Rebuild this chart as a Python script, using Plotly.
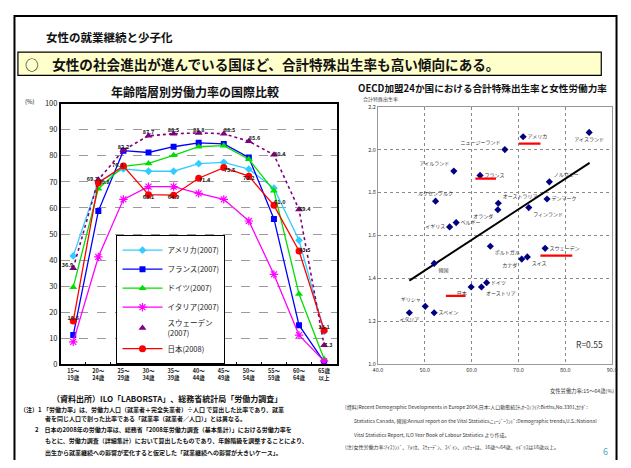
import plotly.graph_objects as go

# page is 631x468; the html body has an 8px margin, so the figure is 615x452 offset by 8px
OFF = 8
W, H = 631 - 2 * OFF, 468 - 2 * OFF
FONT = "Noto Sans CJK JP"


def px(x):
    return (x - OFF) / W


def py(y):
    return 1 - (y - OFF) / H


# ---------------- left chart data ----------------
age_groups = ["15～<br>19歳", "20～<br>24歳", "25～<br>29歳", "30～<br>34歳", "35～<br>39歳",
              "40～<br>44歳", "45～<br>49歳", "50～<br>54歳", "55～<br>59歳", "60～<br>64歳", "65歳<br>以上"]
usa_2007 = [41.6, 70.1, 75.0, 74.1, 74.1, 77.0, 77.5, 74.9, 67.6, 47.6, 12.6]
france_2007 = [11.2, 58.8, 82.0, 81.3, 83.5, 85.0, 84.6, 79.4, 55.8, 15.0, 0.9]
germany_2007 = [29.6, 67.4, 76.0, 77.1, 80.2, 83.5, 83.9, 78.7, 66.6, 27.0, 2.0]
italy_2007 = [8.6, 41.2, 63.3, 68.2, 68.2, 65.6, 63.3, 55.0, 34.5, 11.2, 1.2]
sweden_2007 = [36.9, 70.8, 82.2, 87.7, 88.5, 88.8, 88.5, 85.6, 80.4, 59.4, 7.3]
japan_2008 = [16.6, 69.7, 76.1, 65.1, 64.9, 71.4, 75.5, 72.2, 61.0, 43.5, 13.1]

# ---------------- right chart data ----------------
countries = ["アメリカ", "アイスランド", "ニュージーランド", "アイルランド", "フランス", "ノルウェー",
             "ルクセンブルク", "オーストラリア", "デンマーク", "オランダ", "フィンランド", "ベルギー",
             "イギリス", "ポルトガル", "カナダ", "スイス", "スウェーデン", "韓国", "ドイツ",
             "オーストリア", "日本", "ギリシャ", "スペイン", "イタリア"]
female_lfp = [71.0, 85.1, 67.1, 56.2, 61.8, 76.6, 52.3, 65.7, 76.1, 65.6, 72.2, 56.7,
              55.3, 64.0, 70.7, 71.9, 75.7, 52.0, 63.2, 62.1, 59.9, 50.1, 52.0, 46.7]
fertility = [2.06, 2.08, 2.00, 1.90, 1.88, 1.85, 1.76, 1.75, 1.77, 1.72, 1.73, 1.66,
             1.64, 1.55, 1.49, 1.50, 1.54, 1.47, 1.38, 1.36, 1.36, 1.27, 1.24, 1.24]
trend_x = [46.7, 85.2]
trend_y = [1.39, 1.938]
highlighted = ["アメリカ", "フランス", "日本", "スウェーデン"]

# ---------------- styles ----------------
country_label_pos = ["middle right", "bottom center", "top left", "top left", "middle right", "top right",
                     "top center", "top right", "middle right", "bottom left", "bottom right", "middle right",
                     "middle left", "bottom right", "bottom left", "bottom right", "middle right", "bottom right",
                     "middle right", "bottom right", "bottom left", "top left", "middle right", "bottom center"]
# underline offsets relative to the point (dx0, dx1, dy)
underline_offsets = {"アメリカ": (-0.9, 3.7, -0.032), "フランス": (-1.0, 3.4, -0.015),
                     "日本": (-5.4, -1.2, -0.041), "スウェーデン": (-1.0, 5.8, -0.034)}
japan_label_pos = ["top center", "top left", "middle left", "bottom center", "bottom center", "bottom right",
                   "bottom right", "bottom center", "top right", "middle right", "top center"]
sweden_label_pos = ["top left", "bottom right", "top center", "top center", "top center", "top center",
                    "top right", "top right", "middle right", "middle right", "middle right"]

fig = go.Figure()

series = [
    ("アメリカ(2007)", usa_2007, "#33CCFF", "diamond", 6),
    ("フランス(2007)", france_2007, "#0000FF", "square", 6),
    ("ドイツ(2007)", germany_2007, "#00E000", "triangle-up", 7),
    ("イタリア(2007)", italy_2007, "#FF00FF", "asterisk-open", 7),
]
for i, (name, vals, col, sym, sz) in enumerate(series):
    mk = dict(color=col, symbol=sym, size=sz)
    if sym == "asterisk-open":
        mk["line"] = dict(color=col, width=1.2)
    fig.add_trace(go.Scatter(x=age_groups, y=vals, name=name, mode="lines+markers",
                             line=dict(color=col, width=1.3), marker=mk,
                             xaxis="x", yaxis="y", legendrank=i + 1))

# Sweden: dotted line + triangles (legend shows marker only)
fig.add_trace(go.Scatter(x=age_groups, y=sweden_2007, mode="lines", showlegend=False,
                         line=dict(color="#800080", width=1.6, dash="dot"), xaxis="x", yaxis="y"))
fig.add_trace(go.Scatter(x=age_groups, y=sweden_2007, mode="markers", name="スウェーデン<br>(2007)",
                         marker=dict(color="#800080", symbol="triangle-up", size=7),
                         xaxis="x", yaxis="y", legendrank=5))
fig.add_trace(go.Scatter(x=age_groups, y=japan_2008, mode="lines+markers", name="日本(2008)",
                         line=dict(color="#FF0000", width=1.3),
                         marker=dict(color="#FF0000", symbol="circle", size=7),
                         xaxis="x", yaxis="y", legendrank=6))

lab_font = dict(family=FONT, size=5.5, color="#222", weight="bold")
fig.add_trace(go.Scatter(x=age_groups, y=japan_2008, mode="text", showlegend=False,
                         text=[f"{v:.1f}" for v in japan_2008], textposition=japan_label_pos,
                         textfont=lab_font, xaxis="x", yaxis="y"))
fig.add_trace(go.Scatter(x=age_groups, y=sweden_2007, mode="text", showlegend=False,
                         text=[f"{v:.1f}" for v in sweden_2007], textposition=sweden_label_pos,
                         textfont=lab_font, xaxis="x", yaxis="y"))

# right chart
fig.add_trace(go.Scatter(x=trend_x, y=trend_y, mode="lines", showlegend=False,
                         line=dict(color="black", width=2), xaxis="x2", yaxis="y2"))
fig.add_trace(go.Scatter(x=female_lfp, y=fertility, mode="markers+text", showlegend=False,
                         text=countries, textposition=country_label_pos,
                         textfont=dict(family=FONT, size=5, color="#333"),
                         marker=dict(color="#000080", symbol="diamond", size=5.5),
                         xaxis="x2", yaxis="y2"))

shapes = [
    dict(type="rect", xref="paper", yref="paper", x0=px(9.5), y0=py(10), x1=px(621.5), y1=py(480),
         line=dict(color="black", width=2), fillcolor="rgba(0,0,0,0)", layer="below"),
    dict(type="rect", xref="paper", yref="paper", x0=px(13), y0=py(47), x1=px(606), y1=py(71),
         line=dict(color="black", width=1.2), fillcolor="#FFFFCC", layer="below"),
]
for c in highlighted:
    k = countries.index(c)
    dx0, dx1, dy = underline_offsets[c]
    shapes.append(dict(type="line", xref="x2", yref="y2",
                       x0=female_lfp[k] + dx0, x1=female_lfp[k] + dx1,
                       y0=fertility[k] + dy, y1=fertility[k] + dy,
                       line=dict(color="#FF0000", width=2.2)))

ann = []


def text(x, y, s, size, anchor="left", bold=False, color="#111", yanchor="middle"):
    ann.append(dict(x=px(x), y=py(y), xref="paper", yref="paper", text=s, showarrow=False,
                    xanchor=anchor, yanchor=yanchor,
                    font=dict(family=FONT, size=size, color=color, weight="bold" if bold else "normal")))


text(40, 32, "女性の就業継続と少子化", 11.5, bold=True)
text(18, 59, "○　女性の社会進出が進んでいる国ほど、合計特殊出生率も高い傾向にある。", 13.6, bold=True)
text(193, 87, "年齢階層別労働力率の国際比較", 12, anchor="center", bold=True)
text(357, 84, "OECD加盟24か国における合計特殊出生率と女性労働力率", 9.6, bold=True)
text(362, 95, "合計特殊出生率", 5, color="#444")
text(18, 98, "(%)", 6)
text(621, 394, "女性労働力率:15～64歳(%)", 5.3, anchor="right", color="#333")
text(594, 346, "R=0.55", 8.5, anchor="center", color="#333")
text(165, 402, "（資料出所）ILO「LABORSTA」、総務省統計局「労働力調査」", 8, anchor="center", bold=True)

left_notes = [
    (13, 413, "（注）1 「労働力率」は、労働力人口（就業者＋完全失業者）÷人口 で算出した比率であり、就業"),
    (38, 423, "者を同じ人口で割った比率である「就業率（就業者／人口）」とは異なる。"),
    (28, 434, "2　日本の2008年の労働力率は、総務省「2008年労働力調査（基本集計）」における労働力率を"),
    (38, 445, "もとに、労働力調査（詳細集計）において算出したものであり、年齢階級を調整することにより、"),
    (38, 457, "出生から就業継続への影響が変化すると仮定した「就業継続への影響が大きいケース」。"),
]
for x, y, s in left_notes:
    text(x, y, s, 6, bold=True)

right_notes = [
    (343, 411, "(資料)Recent Demographic Developments in Europe 2004,日本:人口動態統計,ｵｰｽﾄﾗﾘｱ:Births,No.3301,ｶﾅﾀﾞ:"),
    (353, 425, "Statistics Canada, 韓国:Annual report on the Vital Statistics,ﾆｭｰｼﾞｰﾗﾝﾄﾞ:Demographic trends,U.S.:National"),
    (353, 439, "Vital Statistics Report, ILO Year Book of Labour Statistics より作成。"),
    (343, 452, "(注)女性労働力率:ｱｲｽﾗﾝﾄﾞ、ｱﾒﾘｶ、ｽｳｪｰﾃﾞﾝ、ｽﾍﾟｲﾝ、ﾉﾙｳｪｰは、16歳～64歳、ｲｷﾞﾘｽは16歳以上。"),
]
for x, y, s in right_notes:
    text(x, y, s, 5, color="#333")
text(610, 456, "6", 9, anchor="center", color="#4BACC6")

fig.update_layout(
    width=W, height=H, margin=dict(l=0, r=0, t=0, b=0),
    paper_bgcolor="white", plot_bgcolor="white",
    font=dict(family=FONT, color="#222"),
    shapes=shapes, annotations=ann,
    xaxis=dict(domain=[px(56.5), px(337)], type="category", categoryorder="array",
               categoryarray=age_groups, range=[-0.5, 10.5], showline=True, linecolor="black",
               linewidth=1.5, mirror=True, showgrid=False, ticks="inside", tickson="boundaries",
               ticklen=3, tickcolor="black", tickangle=0,
               tickfont=dict(family=FONT, size=5.5, color="#222", weight="bold"), anchor="y"),
    yaxis=dict(domain=[py(367), py(100)], range=[0, 100], dtick=10, showgrid=True, gridcolor="#9a9a9a",
               griddash="dash", gridwidth=1, showline=True, linecolor="black", linewidth=1.5,
               mirror=True, zeroline=False, ticks="",
               tickfont=dict(family=FONT, size=7.5, color="#222"), anchor="x"),
    xaxis2=dict(domain=[px(379), px(617)], range=[40, 90], dtick=10, tickformat=".1f",
                showgrid=True, gridcolor="#8a8a8a", griddash="dot", gridwidth=1, showline=True,
                linecolor="#999", linewidth=1, mirror=True, zeroline=False, ticks="",
                tickfont=dict(family=FONT, size=5.5, color="#333"), anchor="y2"),
    yaxis2=dict(domain=[py(367), py(103)], range=[1.0, 2.2], dtick=0.2, tickformat=".1f",
                showgrid=True, gridcolor="#8a8a8a", griddash="dot", gridwidth=1, showline=True,
                linecolor="#999", linewidth=1, mirror=True, zeroline=False, ticks="",
                tickfont=dict(family=FONT, size=5.5, color="#333"), anchor="x2"),
    legend=dict(x=px(113), y=py(234), xanchor="left", yanchor="top", bgcolor="white",
                bordercolor="black", borderwidth=1.2,
                font=dict(family=FONT, size=7.5, color="#222"), itemwidth=40,
                tracegroupgap=0),
    showlegend=True,
)

fig.write_html("out.html")
